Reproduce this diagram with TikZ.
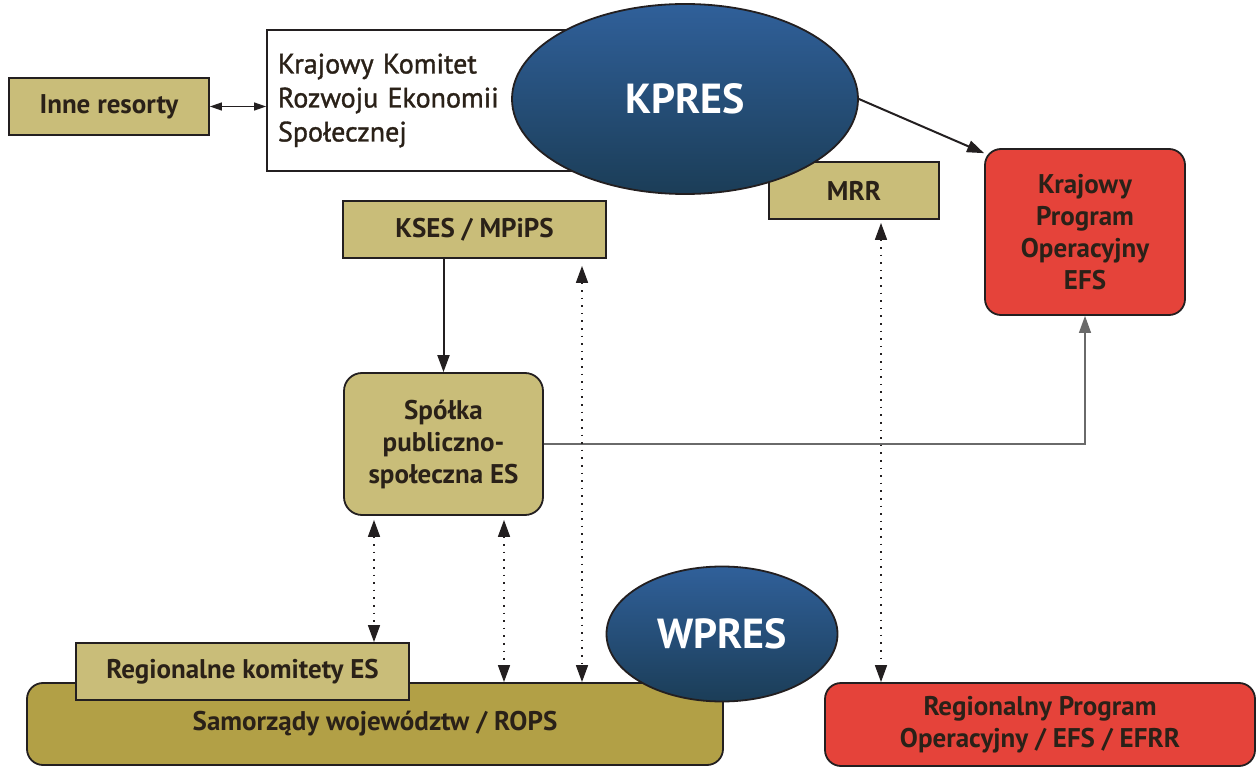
\documentclass[tikz,border=0pt]{standalone}
\usepackage{fontspec}
\setmainfont{PT Sans}
\newfontfamily\medfont[FakeBold=1.2]{PT Sans}
\usetikzlibrary{shapes.geometric,arrows.meta}
\definecolor{tanfill}{HTML}{C9BD79}
\definecolor{olivefill}{HTML}{B2A046}
\definecolor{redfill}{HTML}{E5433A}
\definecolor{blobtop}{HTML}{30609A}
\definecolor{blobbot}{HTML}{1B3D57}
\definecolor{edge}{HTML}{231F20}
\definecolor{ink}{HTML}{2A2118}
\definecolor{wire}{HTML}{6A6A6A}

\begin{document}
\begin{tikzpicture}[x=1pt,y=-1pt,
  box/.style={draw=edge,line width=1.8pt,text=ink,align=center,inner sep=0pt,font=\bfseries\fontsize{27}{32}\selectfont},
  tanbox/.style={box,fill=tanfill},
  redbox/.style={box,fill=redfill,rounded corners=16pt},
  blob/.style={ellipse,draw=edge,line width=1.8pt,top color=blobtop,bottom color=blobbot,text=white,inner sep=0pt,font=\bfseries\fontsize{42}{46}\selectfont},
  tip/.tip={Triangle[length=17pt,width=12pt]},
  link/.style={draw=edge,line width=2pt,-tip},
  dots/.style={draw=edge,line width=1.6pt,dash pattern=on 1.6pt off 6pt,tip-tip}]
  \useasboundingbox (0,0) rectangle (1259,767);
  % top row
  \node[tanbox,minimum width=200pt,minimum height=57pt] (inne) at (109,106.5) {Inne resorty};
  \node[box,fill=white,font=\medfont\fontsize{28}{34}\selectfont,align=left,text width=311pt,inner xsep=11pt,minimum height=141pt] (kkres) at (433.5,100.5) {Krajowy Komitet\\Rozwoju Ekonomii\\Społecznej};
  \node[tanbox,minimum width=170pt,minimum height=57pt] (mrr) at (854,190.5) {MRR};
  \node[blob,minimum width=346pt,minimum height=190pt] (kpres) at (685,99) {KPRES};
  \node[redbox,minimum width=200pt,minimum height=166pt] (kpo) at (1085,232) {Krajowy\\Program\\Operacyjny\\EFS};
  % middle
  \node[tanbox,minimum width=263pt,minimum height=57pt] (kses) at (474.5,229.5) {KSES / MPiPS};
  \node[tanbox,rounded corners=18pt,minimum width=199pt,minimum height=142pt] (spolka) at (443.5,444) {Spółka\\publiczno-\\społeczna ES};
  % bottom row
  \node[box,fill=olivefill,rounded corners=16pt,minimum width=696pt,minimum height=82pt] (samo) at (375,724) {Samorządy województw / ROPS};
  \node[tanbox,minimum width=333pt,minimum height=57pt] (regk) at (242.5,671.5) {Regionalne komitety ES};
  \node[blob,minimum width=231pt,minimum height=135pt] (wpres) at (722,634) {WPRES};
  \node[redbox,minimum width=430pt,minimum height=83pt] (rpo) at (1040,724.5) {Regionalny Program\\Operacyjny / EFS / EFRR};
  % connectors
  \draw[draw=edge,line width=1.2pt,{Triangle[length=12pt,width=8pt]}-{Triangle[length=12pt,width=8pt]}] (inne.east) -- (inne.east -| kkres.west);
  \draw[link] (kpres.east) -- (kpo.142);
  \draw[link] (spolka.north |- kses.south) -- (spolka.north);
  \draw[draw=wire,line width=1.3pt,-tip] (spolka.east) -| (kpo.south);
  \coordinate (xa) at (582,0);
  \coordinate (xb) at (881,0);
  \coordinate (xc) at (374,0);
  \coordinate (xd) at (504,0);
  \draw[dots,shorten <=7pt] (kses.south -| xa) -- (samo.north -| xa);
  \draw[dots,shorten <=3pt] (mrr.south -| xb) -- (rpo.north -| xb);
  \draw[dots,shorten <=4pt] (spolka.south -| xc) -- (regk.north -| xc);
  \draw[dots,shorten <=4pt] (spolka.south -| xd) -- (samo.north -| xd);
\end{tikzpicture}
\end{document}
